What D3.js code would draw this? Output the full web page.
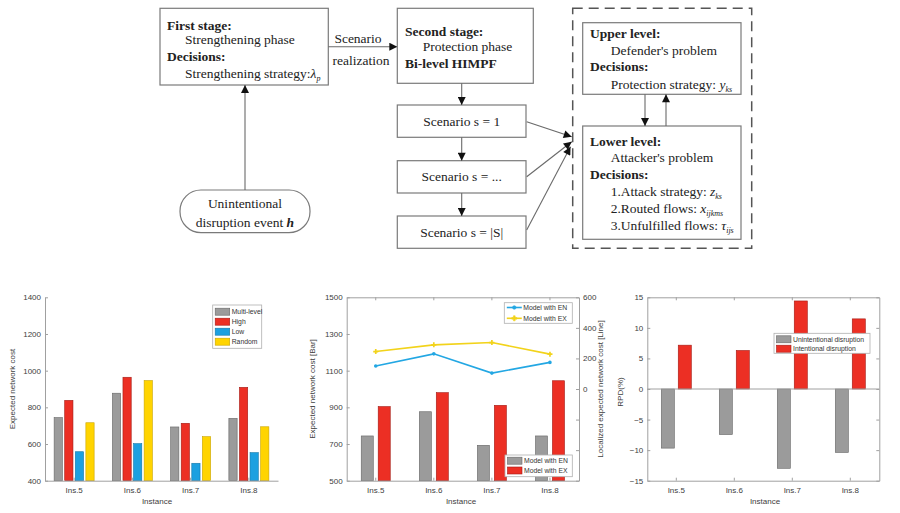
<!DOCTYPE html>
<html><head><meta charset="utf-8">
<script src="https://cdn.jsdelivr.net/npm/d3@7"></script>
<style>body{margin:0;background:#fff}svg{display:block}</style>
</head><body>
<svg id="c" width="900" height="513"></svg>
<script>
// ---------- DATA ----------
const instances = ["Ins.5", "Ins.6", "Ins.7", "Ins.8"];

const series1Names = ["Multi-level", "High", "Low", "Random"];
const multiLevel = [744, 877, 693, 740];
const high = [838, 964, 713, 909];
const low = [558, 602, 495, 553];
const random = [716, 946, 640, 694];
const ticks1 = [400, 600, 800, 1000, 1200, 1400];

const barNames2 = ["Model with EN", "Model with EX"];
const barEN = [744, 876, 693, 744];
const barEX = [904, 980, 911, 1045];
const lineNames2 = ["Model with EN", "Model with EX"];
const lineEN = [150, 230, 104, 174];
const lineEX = [245, 289, 304, 228];
const ticks2L = [500, 700, 900, 1100, 1300, 1500];
const ticks2R = [-600, -400, -200, 0, 200, 400, 600];
const ticks2RLabeled = [0, 200, 400, 600];

const names3 = ["Unintentional disruption", "Intentional disruption"];
const unintentional = [-9.67, -7.45, -12.97, -10.38];
const intentional = [7.17, 6.3, 14.4, 11.47];
const ticks3 = [-15, -10, -5, 0, 5, 10, 15];

// flowchart texts
const firstStageLines = ["First stage:", "Strengthening phase", "Decisions:", "Strengthening strategy:"];
const secondStageLines = ["Second stage:", "Protection phase", "Bi-level HIMPF"];
const scenarioLabels = ["Scenario s = 1", "Scenario s = ...", "Scenario s = |S|"];
const upperLines = ["Upper level:", "Defender's problem", "Decisions:", "Protection strategy: "];
const lowerLines = ["Lower level:", "Attacker's problem", "Decisions:", "1.Attack strategy: ", "2.Routed flows: ", "3.Unfulfilled flows: "];

// ---------- STYLE ----------
const C_GRAY = "#9b9b9b", C_RED = "#ec2f24", C_BLUE = "#1ca0e0", C_YEL = "#ffd400";
const C_LBLUE = "#23a7e3", C_LYEL = "#f2d31b";
const SANS = "'Liberation Sans', Arial, Helvetica, sans-serif";
const SERIF = "'Liberation Serif', 'Times New Roman', serif";

const svg = d3.select("#c");
const defs = svg.append("defs");
defs.append("marker").attr("id", "ah").attr("viewBox", "0 0 10 10")
  .attr("refX", 10).attr("refY", 5).attr("markerWidth", 9).attr("markerHeight", 8)
  .attr("markerUnits", "userSpaceOnUse").attr("orient", "auto")
  .append("path").attr("d", "M0,0 L10,5 L0,10 Z").attr("fill", "#111");

// ---------- FLOWCHART ----------
const fc = svg.append("g").attr("font-family", SERIF).attr("font-size", 13.5).attr("fill", "#222");
function box(x, y, w, h, opts = {}) {
  return fc.append("rect").attr("x", x).attr("y", y).attr("width", w).attr("height", h)
    .attr("rx", opts.rx || 0).attr("fill", "#fff").attr("stroke", opts.stroke || "#7a7a7a")
    .attr("stroke-width", opts.sw || 1.2).attr("stroke-dasharray", opts.dash || null);
}
function arrow(x1, y1, x2, y2) {
  fc.append("line").attr("x1", x1).attr("y1", y1).attr("x2", x2).attr("y2", y2)
    .attr("stroke", "#6a6a6a").attr("stroke-width", 1.1).attr("marker-end", "url(#ah)");
}
function txt(x, y, s, bold, anchor) {
  return fc.append("text").attr("x", x).attr("y", y).attr("font-weight", bold ? "bold" : "normal")
    .attr("text-anchor", anchor || "start").text(s);
}
function sub(t, main, subs, boldMain) {
  t.append("tspan").attr("font-style", "italic").attr("font-weight", boldMain ? "bold" : "normal").text(main);
  t.append("tspan").attr("font-style", "italic").attr("font-size", 8).attr("dy", 3).text(subs);
}

// dashed container
box(572.7, 8.3, 179, 240, { dash: "10,6", stroke: "#555", sw: 1.5 });

// First stage
box(160, 8.3, 168.3, 76.7);
txt(167, 29.5, firstStageLines[0], true);
txt(185, 44, firstStageLines[1], false);
txt(167, 61, firstStageLines[2], true);
sub(txt(185, 78, firstStageLines[3], false), "λ", "p");

// Scenario realization arrow
arrow(328.3, 46.7, 397.3, 46.7);
txt(358, 42.5, "Scenario", false, "middle");
txt(361, 64.5, "realization", false, "middle");

// Second stage
box(397.3, 8.3, 136, 75);
txt(405, 36, secondStageLines[0], true);
txt(422.7, 51, secondStageLines[1], false);
txt(405, 67.5, secondStageLines[2], true);

// Scenario boxes
const scenY = [105, 160.7, 216];
scenY.forEach((y, i) => {
  box(397.3, y, 128.7, 32.3);
  txt(461.7, y + 20.5, scenarioLabels[i], false, "middle");
});
arrow(461.7, 83.3, 461.7, 105);
arrow(461.7, 137.3, 461.7, 160.7);
arrow(461.7, 193, 461.7, 216);
arrow(526.7, 121.7, 571.7, 136.7);
arrow(526.7, 176.7, 571.7, 141.7);
arrow(526.7, 230, 570.5, 146.7);

// Unintentional disruption oval
box(180, 190, 130, 42.7, { rx: 21 });
txt(245, 208, "Unintentional", false, "middle");
const t2 = txt(245, 226.5, "disruption event ", false, "middle");
t2.append("tspan").attr("font-style", "italic").attr("font-weight", "bold").text("h");
arrow(245, 190, 245, 85);

// Upper level
box(582.7, 22.7, 158.3, 71.6);
txt(590, 38, upperLines[0], true);
txt(610.7, 54.5, upperLines[1], false);
txt(590, 71, upperLines[2], true);
sub(txt(610.7, 88.5, upperLines[3], false), "y", "ks");

// Lower level
box(582.7, 126, 158.3, 113.3);
txt(590, 146, lowerLines[0], true);
txt(610.7, 162, lowerLines[1], false);
txt(590, 178.5, lowerLines[2], true);
sub(txt(610.7, 196, lowerLines[3], false), "z", "ks");
sub(txt(610.7, 212.8, lowerLines[4], false), "x", "ijkms");
sub(txt(610.7, 229.5, lowerLines[5], false), "τ", "ijs");

arrow(645, 94.3, 645, 126);
arrow(666, 126, 666, 94.3);

// ---------- CHART HELPERS ----------
const YT = 297.3, YB = 480.7;
const AX = "#a0a0a0", TX = "#404040";

function styleAxis(g) {
  g.selectAll("path.domain").attr("stroke", AX);
  g.selectAll(".tick line").attr("stroke", AX);
  g.selectAll("text").attr("fill", TX).attr("font-family", SANS).attr("font-size", 8);
}
function xAxis(x, opts = {}) {
  const g = svg.append("g").attr("transform", `translate(0,${YB})`)
    .call(d3.axisBottom(x).tickSize(-3).tickSizeOuter(0).tickPadding(7));
  styleAxis(g);
  if (opts.top) {
    const gt = svg.append("g").attr("transform", `translate(0,${YT})`)
      .call(d3.axisTop(x).tickSize(-3).tickSizeOuter(0).tickFormat(""));
    styleAxis(gt);
  }
  return g;
}
function yAxis(y, x0, ticks, side, fmt) {
  const ax = side === "left" ? d3.axisLeft(y) : d3.axisRight(y);
  const g = svg.append("g").attr("transform", `translate(${x0},0)`)
    .call(ax.tickValues(ticks).tickSize(-3).tickSizeOuter(0).tickPadding(4).tickFormat(fmt || d3.format("d")));
  styleAxis(g);
  return g;
}
function axisTitle(x, y, s, rot) {
  svg.append("text").attr("transform", `translate(${x},${y})` + (rot ? " rotate(-90)" : ""))
    .attr("text-anchor", "middle").attr("font-family", SANS).attr("font-size", 8).attr("fill", TX).text(s);
}
function legend(x, y, w, h, rows, rowY) {
  const g = svg.append("g");
  g.append("rect").attr("x", x).attr("y", y).attr("width", w).attr("height", h)
    .attr("fill", "#fff").attr("stroke", "#b0b0b0").attr("stroke-width", 0.8);
  rows.forEach((r, i) => {
    const cy = rowY[i];
    if (r.type === "rect") {
      g.append("rect").attr("x", x + 2.5).attr("y", cy - 3.5).attr("width", 14.5).attr("height", 7)
        .attr("fill", r.color).attr("stroke", r.stroke).attr("stroke-width", 0.6);
    } else {
      g.append("line").attr("x1", x + 2.5).attr("x2", x + 17.5).attr("y1", cy).attr("y2", cy)
        .attr("stroke", r.color).attr("stroke-width", 1.6);
      g.append("path").attr("transform", `translate(${x + 10},${cy})`)
        .attr("d", d3.symbol().type(r.sym).size(r.symSize)()).attr("fill", r.color)
        .attr("stroke", r.color).attr("stroke-width", 0.6);
    }
    g.append("text").attr("x", x + 19).attr("y", cy + 2.5).attr("font-family", SANS)
      .attr("font-size", 6.8).attr("fill", "#333").text(r.label);
  });
}

// ---------- CHART 1 ----------
{
  const x = d3.scaleBand().domain(instances).range([45, 278]).padding(0);
  const inner = d3.scaleBand().domain(series1Names).range([-20, 20]).paddingInner(0.22);
  const y = d3.scaleLinear().domain([400, 1400]).range([YB, YT]);
  const vals = [multiLevel, high, low, random];
  const cols = [C_GRAY, C_RED, C_BLUE, C_YEL];
  const strokes = ["#666", "#a31a14", "#1577a8", "#c9a400"];
  series1Names.forEach((name, si) => {
    svg.append("g").selectAll("rect").data(instances).join("rect")
      .attr("x", d => x(d) + x.bandwidth() / 2 + inner(name))
      .attr("width", inner.bandwidth())
      .attr("y", (d, i) => y(vals[si][i]))
      .attr("height", (d, i) => YB - y(vals[si][i]))
      .attr("fill", cols[si]).attr("stroke", strokes[si]).attr("stroke-width", 0.6);
  });
  xAxis(x);
  yAxis(y, 45, ticks1, "left");
  axisTitle(15, 389, "Expected network cost", true);
  axisTitle(157, 503.5, "Instance", false);
  legend(212.7, 305, 49, 43.3,
    series1Names.map((n, i) => ({ type: "rect", color: cols[i], stroke: strokes[i], label: n })),
    [311.7, 321.7, 331.7, 341.7]);
}

// ---------- CHART 2 ----------
{
  const x = d3.scaleBand().domain(instances).range([346.7, 579]).padding(0);
  const inner = d3.scaleBand().domain(barNames2).range([-14.5, 14.5]).paddingInner(0.29);
  const y = d3.scaleLinear().domain([500, 1500]).range([YB, YT]);
  const yR = d3.scaleLinear().domain([-600, 600]).range([YB, YT]);
  const vals = [barEN, barEX];
  const cols = [C_GRAY, C_RED], strokes = ["#666", "#a31a14"];
  barNames2.forEach((name, si) => {
    svg.append("g").selectAll("rect").data(instances).join("rect")
      .attr("x", d => x(d) + x.bandwidth() / 2 + inner(name))
      .attr("width", inner.bandwidth())
      .attr("y", (d, i) => y(vals[si][i]))
      .attr("height", (d, i) => YB - y(vals[si][i]))
      .attr("fill", cols[si]).attr("stroke", strokes[si]).attr("stroke-width", 0.6);
  });
  const cx = d => x(d) + x.bandwidth() / 2;
  const lines = [[lineEN, C_LBLUE, d3.symbolCircle, 10], [lineEX, C_LYEL, d3.symbolCross, 14]];
  lines.forEach(([vals, col, sym, sz]) => {
    const pts = instances.map((d, i) => [cx(d), yR(vals[i])]);
    svg.append("path").attr("d", d3.line()(pts)).attr("fill", "none").attr("stroke", col).attr("stroke-width", 1.6);
    svg.append("g").selectAll("path").data(pts).join("path")
      .attr("transform", p => `translate(${p[0]},${p[1]})`)
      .attr("d", d3.symbol().type(sym).size(sz)()).attr("fill", col);
  });
  xAxis(x, { top: true });
  yAxis(y, 346.7, ticks2L, "left");
  yAxis(yR, 579, ticks2R, "right", d => ticks2RLabeled.includes(d) ? d3.format("d")(d) : "");
  axisTitle(315, 389, "Expected network cost [Bar]", true);
  axisTitle(603, 389, "Localized expected network cost [Line]", true);
  axisTitle(461, 503.5, "Instance", false);
  legend(504.3, 302.7, 68, 20.6, [
    { type: "line", color: C_LBLUE, sym: d3.symbolCircle, symSize: 10, label: lineNames2[0] },
    { type: "line", color: C_LYEL, sym: d3.symbolCross, symSize: 14, label: lineNames2[1] }
  ], [307.5, 318.3]);
  legend(505, 455, 67.3, 21.7, [
    { type: "rect", color: C_GRAY, stroke: "#666", label: barNames2[0] },
    { type: "rect", color: C_RED, stroke: "#a31a14", label: barNames2[1] }
  ], [460.7, 470.5]);
}

// ---------- CHART 3 ----------
{
  const x = d3.scaleBand().domain(instances).range([647.3, 879.3]).padding(0);
  const inner = d3.scaleBand().domain(names3).range([-15, 15]).paddingInner(0.23);
  const y = d3.scaleLinear().domain([-15, 15]).range([YB, YT]);
  const vals = [unintentional, intentional];
  const cols = [C_GRAY, C_RED], strokes = ["#666", "#a31a14"];
  names3.forEach((name, si) => {
    svg.append("g").selectAll("rect").data(instances).join("rect")
      .attr("x", d => x(d) + x.bandwidth() / 2 + inner(name))
      .attr("width", inner.bandwidth())
      .attr("y", (d, i) => y(Math.max(0, vals[si][i])))
      .attr("height", (d, i) => Math.abs(y(vals[si][i]) - y(0)))
      .attr("fill", cols[si]).attr("stroke", strokes[si]).attr("stroke-width", 0.6);
  });
  svg.append("line").attr("x1", 647.3).attr("x2", 879.3).attr("y1", y(0)).attr("y2", y(0))
    .attr("stroke", AX).attr("stroke-width", 1);
  xAxis(x, { top: true });
  yAxis(y, 647.3, ticks3, "left");
  yAxis(y, 879.3, ticks3, "right", () => "");
  axisTitle(623, 392, "RPD(%)", true);
  axisTitle(765, 503.5, "Instance", false);
  legend(774, 333.3, 96, 20, [
    { type: "rect", color: C_GRAY, stroke: "#666", label: names3[0] },
    { type: "rect", color: C_RED, stroke: "#a31a14", label: names3[1] }
  ], [339.3, 348.7]);
}
</script>
</body></html>
